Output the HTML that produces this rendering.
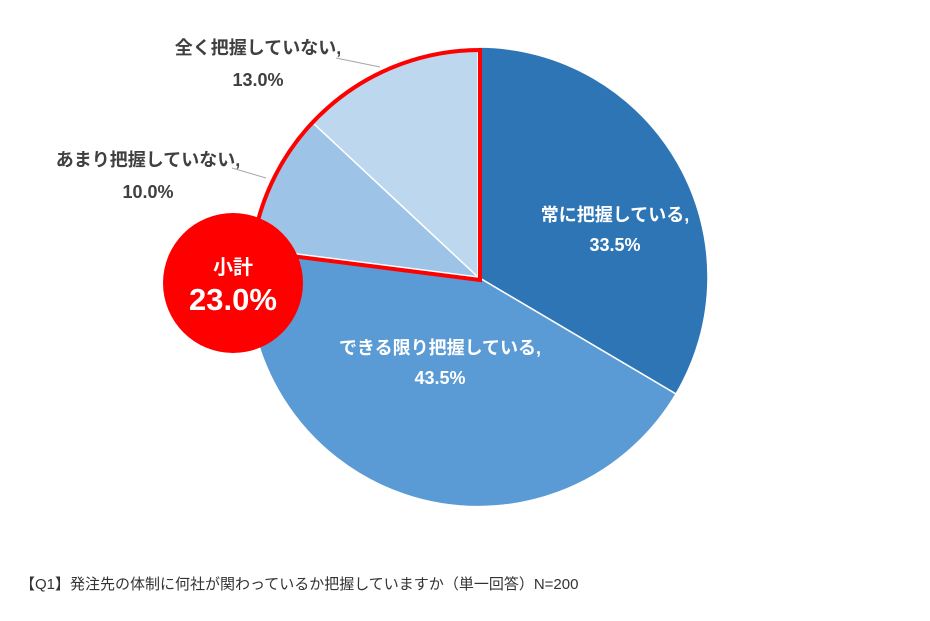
<!DOCTYPE html>
<html><head><meta charset="utf-8"><style>
body{margin:0;background:#fff;}
svg text{font-family:"Liberation Sans","Noto Sans CJK JP",sans-serif;}
</style></head><body>
<svg width="930" height="616" viewBox="0 0 930 616" xmlns="http://www.w3.org/2000/svg">
<rect width="930" height="616" fill="#fff"/>
<g stroke="#fff" stroke-width="1.5">
<path d="M478,277 L478,47 A230,230 0 0 1 676,394 Z" fill="#2E75B6"/>
<path d="M478,277 L676,394 A230,230 0 0 1 250,248 Z" fill="#5B9BD5"/>
<path d="M478,277 L250,248 A230,230 0 0 1 312,122 Z" fill="#9DC3E6"/>
<path d="M478,277 L312,122 A230,230 0 0 1 478,47 Z" fill="#BDD7EE"/>
</g>
<path transform="translate(2,3)" d="M478,277 L250,248 A230,230 0 0 1 478,47 Z" fill="none" stroke="#FF0000" stroke-width="4" stroke-linejoin="miter"/>
<polyline points="336,58 380,67" fill="none" stroke="#a6a6a6" stroke-width="1"/>
<polyline points="232,168 266,178" fill="none" stroke="#a6a6a6" stroke-width="1"/>
<circle cx="233" cy="283" r="70" fill="#FF0000"/>
<g font-weight="bold" text-anchor="middle">
<text x="615" y="221" font-size="18" fill="#fff">常に把握している,</text>
<text x="615" y="251" font-size="18" fill="#fff">33.5%</text>
<text x="440" y="354" font-size="18" fill="#fff">できる限り把握している,</text>
<text x="440" y="384" font-size="18" fill="#fff">43.5%</text>
<text x="148" y="166" font-size="18" fill="#404040">あまり把握していない,</text>
<text x="148" y="198" font-size="18" fill="#404040">10.0%</text>
<text x="258" y="54" font-size="18" fill="#404040">全く把握していない,</text>
<text x="258" y="86" font-size="18" fill="#404040">13.0%</text>
<text x="233" y="274" font-size="20" fill="#fff">小計</text>
<text x="233" y="310" font-size="31" fill="#fff">23.0%</text>
</g>
<text x="20" y="589" font-size="15" fill="#333">【Q1】発注先の体制に何社が関わっているか把握していますか（単一回答）N=200</text>
</svg>
</body></html>
